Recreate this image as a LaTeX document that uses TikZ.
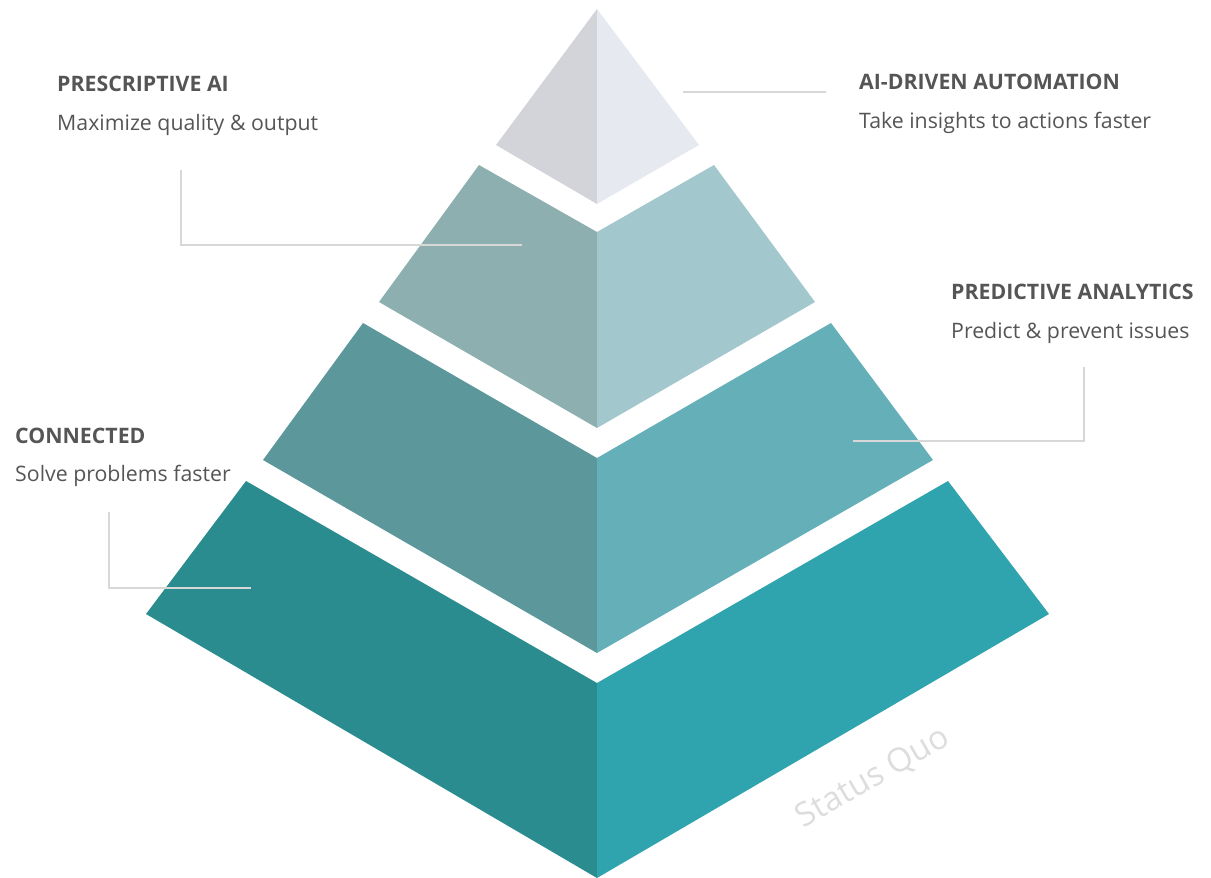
\documentclass[tikz,border=0pt]{standalone}
\usepackage{fontspec}
\setmainfont{Open Sans}
\definecolor{tl}{HTML}{D3D4D9}
\definecolor{tr}{HTML}{E6E9F0}
\definecolor{sl}{HTML}{8DAFB0}
\definecolor{sr}{HTML}{A2C7CC}
\definecolor{ml}{HTML}{5B979B}
\definecolor{mr}{HTML}{65B0B8}
\definecolor{bl}{HTML}{2B8C8F}
\definecolor{br}{HTML}{30A4AE}
\definecolor{leader}{HTML}{D8D8D8}
\definecolor{txt}{HTML}{555555}
\definecolor{sq}{HTML}{DDDDDD}
\tikzset{
  leaderline/.style={draw=leader, line width=1.3pt},
  ttl/.style={anchor=base west, inner sep=0pt, text=txt, font=\fontsize{21.3}{24}\selectfont\bfseries},
  sub/.style={anchor=base west, inner sep=0pt, text=txt, font=\fontsize{21.3}{24}\selectfont},
}
\begin{document}
\begin{tikzpicture}[x=1pt,y=-1pt]
\useasboundingbox (0,0) rectangle (1211,878);
% bottom layer
\fill[bl] (246,481) -- (597,683) -- (597,878) -- (146,614) -- cycle;
\fill[br] (948,481) -- (597,683) -- (597,878) -- (1049,614) -- cycle;
% third layer
\fill[ml] (363,323) -- (597,458) -- (597,653) -- (263,460) -- cycle;
\fill[mr] (831,323) -- (597,458) -- (597,653) -- (933,460) -- cycle;
% second layer
\fill[sl] (479,165) -- (597,232) -- (597,428) -- (379,302) -- cycle;
\fill[sr] (714,165) -- (597,232) -- (597,428) -- (815,302) -- cycle;
% top
\fill[tl] (597,9) -- (597,204) -- (496,145) -- cycle;
\fill[tr] (597,9) -- (597,204) -- (699,145) -- cycle;

% leader coordinates
\coordinate (a1) at (683,92);
\coordinate (a2) at (826,92);
\coordinate (p1) at (181,170);
\coordinate (p2) at (181,245);
\coordinate (p3) at (522,245);
\coordinate (d1) at (1084,367);
\coordinate (d2) at (1084,441);
\coordinate (d3) at (853,441);
\coordinate (c1) at (109,512);
\coordinate (c2) at (109,588);
\coordinate (c3) at (251,588);
\draw[leaderline] (a1) -- (a2);
\draw[leaderline] (p1) -- (p2) -- (p3);
\draw[leaderline] (d1) -- (d2) -- (d3);
\draw[leaderline] (c1) -- (c2) -- (c3);

% texts
\node[ttl] (t1) at (57,91) {PRESCRIPTIVE AI};
\node[sub] (s1) at (57,130) {Maximize quality \& output};
\node[ttl] (t2) at (859,89) {AI-DRIVEN AUTOMATION};
\node[sub] (s2) at (859,128) {Take insights to actions faster};
\node[ttl] (t3) at (951,299) {PREDICTIVE ANALYTICS};
\node[sub] (s3) at (951,338) {Predict \& prevent issues};
\node[ttl] (t4) at (15,443) {CONNECTED};
\node[sub] (s4) at (15,481) {Solve problems faster};
\node[text=sq, rotate=30, inner sep=0pt, font=\fontsize{33}{36}\selectfont] (sqn) at (873,778) {Status Quo};
\end{tikzpicture}
\end{document}
